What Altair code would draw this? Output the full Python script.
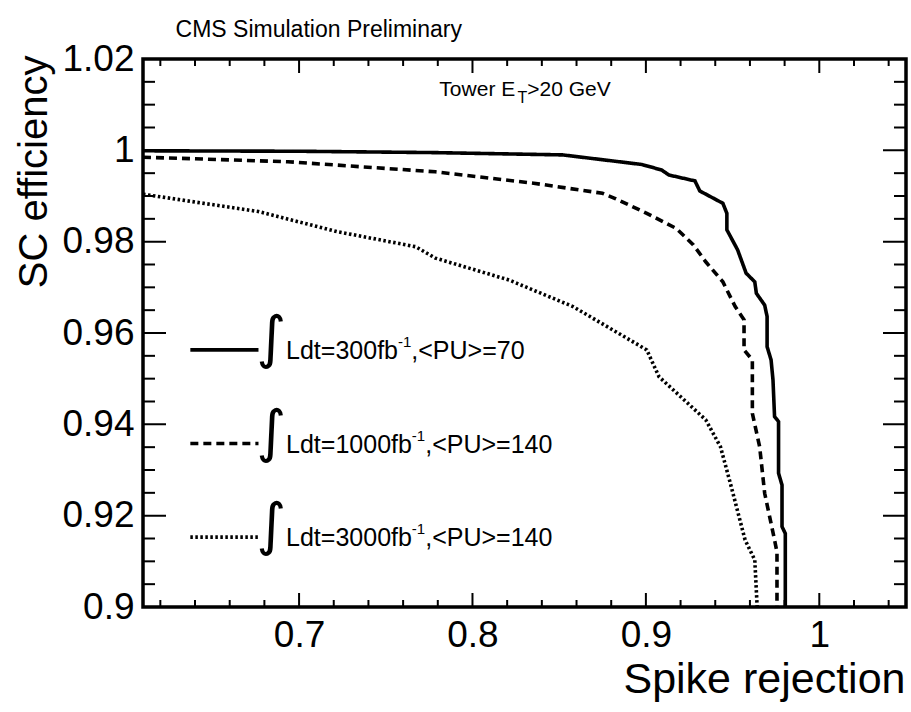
import altair as alt
import pandas as pd

# ---------------- data ----------------
solid_x = [0.61, 0.70, 0.7786, 0.852, 0.8977, 0.909, 0.9133, 0.9283, 0.9311, 0.9444, 0.9467,
           0.9467, 0.9529, 0.9578, 0.9628, 0.9637, 0.9685, 0.9699, 0.9699, 0.9722, 0.9733,
           0.9742, 0.9765, 0.9765, 0.9785, 0.9785, 0.9804, 0.9804]
solid_y = [0.9999, 0.9998, 0.9995, 0.9990, 0.9969, 0.9957, 0.9946, 0.9933, 0.9911, 0.9884, 0.9862,
           0.9826, 0.9782, 0.9731, 0.9712, 0.9687, 0.9661, 0.9636, 0.9570, 0.9541, 0.9497,
           0.9417, 0.9406, 0.9293, 0.9267, 0.9176, 0.9161, 0.8990]

dashed_x = [0.61, 0.6935, 0.7786, 0.8353, 0.8749, 0.8820, 0.9005, 0.9175, 0.9274, 0.9345, 0.9444,
            0.9515, 0.9566, 0.9566, 0.9614, 0.9614, 0.9656, 0.9685, 0.9742, 0.9756, 0.9756]
dashed_y = [0.9985, 0.9975, 0.9953, 0.9928, 0.9906, 0.9895, 0.9862, 0.9829, 0.9793, 0.9756, 0.9712,
            0.9658, 0.9629, 0.9563, 0.9541, 0.9424, 0.9351, 0.9249, 0.9147, 0.9120, 0.8990]

dotted_x = [0.61, 0.6765, 0.7219, 0.7672, 0.7786, 0.8211, 0.8579, 0.9005, 0.9076, 0.9345, 0.9430,
            0.9487, 0.9572, 0.9628, 0.9643]
dotted_y = [0.9904, 0.9866, 0.9822, 0.9789, 0.9764, 0.9716, 0.9658, 0.9563, 0.9504, 0.9410, 0.9351,
            0.9271, 0.9147, 0.9103, 0.8990]

series = ["300 fb-1, <PU>=70", "1000 fb-1, <PU>=140", "3000 fb-1, <PU>=140"]
lumi_values = ["300", "1000", "3000"]
pu_values = ["70", "140", "140"]

x_major_ticks = [0.7, 0.8, 0.9, 1.0]
x_minor_ticks = [0.62, 0.64, 0.66, 0.68, 0.72, 0.74, 0.76, 0.78, 0.82, 0.84, 0.86, 0.88,
                 0.92, 0.94, 0.96, 0.98, 1.02, 1.04]
y_major_ticks = [0.9, 0.92, 0.94, 0.96, 0.98, 1.0, 1.02]
y_minor_ticks = [0.905, 0.91, 0.915, 0.925, 0.93, 0.935, 0.945, 0.95, 0.955, 0.965, 0.97,
                 0.975, 0.985, 0.99, 0.995, 1.005, 1.01, 1.015]

header_text = "CMS Simulation Preliminary"
x_title = "Spike rejection"
y_title = "SC efficiency"

# ---------------- layout / style ----------------
X_DOMAIN = [0.61, 1.05]
Y_DOMAIN = [0.9, 1.02]
W, H = 763, 548
FONT = "Liberation Sans"

LEG_LINE_X = (0.6373, 0.6766)
LEG_INT_X = 0.6840
LEG_TEXT_X = 0.6925
LEG_Y = [0.9563, 0.9358, 0.9153]
HEADER_POS = (0.6288, 1.0248)
TOWER_POS = (0.7809, 1.0118)

HELV = {"L": 556, "d": 556, "t": 278, "=": 584, "0": 556, "1": 556, "2": 556, "3": 556,
        "4": 556, "5": 556, "6": 556, "7": 556, "8": 556, "9": 556, "f": 278, "b": 556,
        "-": 333, ",": 278, "<": 584, "P": 667, "U": 722, ">": 584, "T": 611, "o": 556,
        "w": 722, "e": 556, "r": 333, " ": 278, "E": 667, "G": 778, "V": 667}


def tw(s, size):
    return sum(HELV.get(c, 556) for c in s) * size / 1000.0


xscale = alt.Scale(domain=X_DOMAIN, nice=False, zero=False)
yscale = alt.Scale(domain=Y_DOMAIN, nice=False, zero=False)
dash_scale = alt.Scale(domain=series, range=[[1, 0], [8, 5], [2.5, 2.5]])
sw_scale = alt.Scale(domain=series, range=[3.6, 3.6, 3.0])

X_AXIS = alt.Axis(
    values=x_major_ticks, format=".2~f", ticks=False, tickSize=0, domain=False, grid=False,
    labelFont=FONT, labelFontSize=37, labelColor="black", labelPadding=10,
    labelFlush=False, labelOverlap=False,
    title=x_title, titleFont=FONT, titleFontSize=43, titleFontWeight="normal",
    titleColor="black", titleX=762, titleY=85, titleAlign="right",
    titleBaseline="alphabetic")
Y_AXIS = alt.Axis(
    values=y_major_ticks, format=".2~f", ticks=False, tickSize=0, domain=False, grid=False,
    labelFont=FONT, labelFontSize=37, labelColor="black", labelPadding=9,
    labelFlush=False, labelOverlap=False,
    title=y_title, titleFont=FONT, titleFontSize=40, titleFontWeight="normal",
    titleColor="black", titleX=-97, titleY=-4, titleAlign="right", titleAngle=270,
    titleBaseline="alphabetic")


def XF(field):
    return alt.X(field, type="quantitative", scale=xscale, axis=X_AXIS)


def YF(field):
    return alt.Y(field, type="quantitative", scale=yscale, axis=Y_AXIS)


def XD(v):
    return alt.XDatum(v, type="quantitative", scale=xscale, axis=X_AXIS)


def YD(v):
    return alt.YDatum(v, type="quantitative", scale=yscale, axis=Y_AXIS)


rows = []
for name, xs, ys in zip(series, [solid_x, dashed_x, dotted_x], [solid_y, dashed_y, dotted_y]):
    for i, (xv, yv) in enumerate(zip(xs, ys)):
        rows.append({"series": name, "order": i, "x": xv, "y": yv})
df = pd.DataFrame(rows)

lines = alt.Chart(df).mark_line(clip=True, color="black", strokeCap="butt").encode(
    x=XF("x"),
    y=YF("y"),
    strokeDash=alt.StrokeDash("series:N", scale=dash_scale, legend=None),
    strokeWidth=alt.StrokeWidth("series:N", scale=sw_scale, legend=None),
    order="order:Q",
)


def xticks(values, pos, length):
    return alt.Chart(pd.DataFrame({"v": values})).mark_tick(
        orient="vertical", size=2 * length, thickness=2, clip=True, color="black", opacity=1
    ).encode(x=XF("v"), y=YD(pos))


def yticks(values, pos, length):
    return alt.Chart(pd.DataFrame({"v": values})).mark_tick(
        orient="horizontal", size=2 * length, thickness=2, clip=True, color="black", opacity=1
    ).encode(y=YF("v"), x=XD(pos))


tick_layers = [
    xticks(x_major_ticks, Y_DOMAIN[0], 14), xticks(x_minor_ticks, Y_DOMAIN[0], 7),
    xticks(x_major_ticks, Y_DOMAIN[1], 14), xticks(x_minor_ticks, Y_DOMAIN[1], 7),
    yticks(y_major_ticks, X_DOMAIN[0], 23), yticks(y_minor_ticks, X_DOMAIN[0], 12),
    yticks(y_major_ticks, X_DOMAIN[1], 23), yticks(y_minor_ticks, X_DOMAIN[1], 12),
]

leg_df = pd.DataFrame({"series": series, "y": LEG_Y,
                       "x1": [LEG_LINE_X[0]] * 3, "x2": [LEG_LINE_X[1]] * 3})
leg_lines = alt.Chart(leg_df).mark_rule(color="black", strokeCap="butt").encode(
    x=XF("x1"), x2="x2:Q",
    y=YF("y"),
    strokeDash=alt.StrokeDash("series:N", scale=dash_scale, legend=None),
    strokeWidth=alt.StrokeWidth("series:N", scale=sw_scale, legend=None),
)

text_layers = []


def text_piece(txt, xpos, ypos, size, dx=0.0, dy=0.0, font=FONT, align="left",
               baseline="alphabetic"):
    return alt.Chart(pd.DataFrame({"t": [txt]})).mark_text(
        align=align, baseline=baseline, font=font, fontSize=size, color="black",
        dx=dx, dy=dy
    ).encode(x=XD(xpos), y=YD(ypos), text="t:N")


LSZ = 25
SSZ = 15
for ly, lumi, pu in zip(LEG_Y, lumi_values, pu_values):
    main = "Ldt=" + lumi + "fb"
    sup = "-1"
    rest = ",<PU>=" + pu
    text_layers.append(text_piece("\u222b", LEG_INT_X, ly, 57, dy=-10, align="center",
                                  baseline="middle", font="DejaVu Sans"))
    text_layers.append(text_piece(main, LEG_TEXT_X, ly, LSZ, dy=9))
    text_layers.append(text_piece(sup, LEG_TEXT_X, ly, SSZ, dx=tw(main, LSZ), dy=-3))
    text_layers.append(text_piece(rest, LEG_TEXT_X, ly, LSZ,
                                  dx=tw(main, LSZ) + tw(sup, SSZ), dy=9))

text_layers.append(text_piece(header_text, HEADER_POS[0], HEADER_POS[1], 23))
TSZ = 21
text_layers.append(text_piece("Tower E", TOWER_POS[0], TOWER_POS[1], TSZ))
text_layers.append(text_piece("T", TOWER_POS[0], TOWER_POS[1], 16, dx=tw("Tower E", TSZ), dy=7))
text_layers.append(text_piece(">20 GeV", TOWER_POS[0], TOWER_POS[1], TSZ,
                              dx=tw("Tower E", TSZ) + tw("T", 16)))

chart = alt.layer(lines, *tick_layers, leg_lines, *text_layers).properties(
    width=W, height=H,
    autosize=alt.AutoSizeParams(type="none"),
    padding={"left": 143, "top": 59, "right": 5, "bottom": 105},
    background="white",
).configure_view(stroke="black", strokeWidth=3.5, fill="white")

chart.save("out.html", embed_options={"renderer": "svg", "actions": False})
